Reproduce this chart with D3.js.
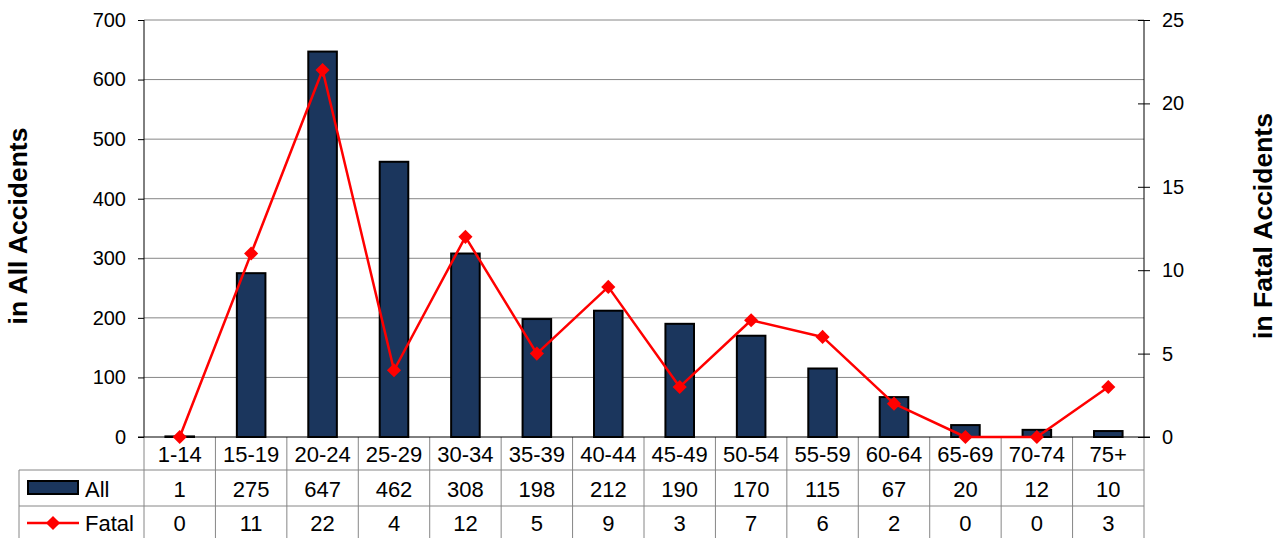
<!DOCTYPE html>
<html>
<head>
<meta charset="utf-8">
<script src="https://cdn.jsdelivr.net/npm/d3@7"></script>
<style>
  body { margin: 0; background: #fff; }
  svg { display: block; font-family: "Liberation Sans", Arial, sans-serif; }
  .axis path { display: none; }
  .axis line { stroke: #000; }
  .axis text { font-size: 20px; fill: #000; }
</style>
</head>
<body>
<svg width="1285" height="538"></svg>
<script>
// data
const ageGroups = ["1-14", "15-19", "20-24", "25-29", "30-34", "35-39", "40-44",
                   "45-49", "50-54", "55-59", "60-64", "65-69", "70-74", "75+"];
const allAccidents = [1, 275, 647, 462, 308, 198, 212, 190, 170, 115, 67, 20, 12, 10];
const fatalAccidents = [0, 11, 22, 4, 12, 5, 9, 3, 7, 6, 2, 0, 0, 3];
const leftTicks = [0, 100, 200, 300, 400, 500, 600, 700];
const rightTicks = [0, 5, 10, 15, 20, 25];

const BAR_COLOR = "#1b365d";
const LINE_COLOR = "#ff0000";
const GRID_COLOR = "#868686";

// plot box
const plotLeft = 144, plotRight = 1144, plotTop = 20, plotBottom = 437;
const tableLeft = 19;
const rowAll = 470, rowFatal = 506, tableBottom = 540;

const svg = d3.select("svg");

const xScale = d3.scaleBand()
  .domain(ageGroups)
  .range([plotLeft, plotRight])
  .padding(0);

const yLeft = d3.scaleLinear().domain([0, 700]).range([plotBottom, plotTop]);
const yRight = d3.scaleLinear().domain([0, 25]).range([plotBottom, plotTop]);

// Grid lines - horizontal
svg.append("g")
  .selectAll("line")
  .data(leftTicks.filter(t => t > 0))
  .enter()
  .append("line")
  .attr("x1", plotLeft)
  .attr("x2", plotRight)
  .attr("y1", d => yLeft(d))
  .attr("y2", d => yLeft(d))
  .attr("stroke", GRID_COLOR)
  .attr("stroke-width", 1);

// Bars
const barW = xScale.bandwidth() * 0.4;
svg.append("g")
  .selectAll("rect")
  .data(allAccidents)
  .enter()
  .append("rect")
  .attr("x", (d, i) => xScale(ageGroups[i]) + xScale.bandwidth() / 2 - barW / 2)
  .attr("y", d => yLeft(d))
  .attr("width", barW)
  .attr("height", d => plotBottom - yLeft(d))
  .attr("fill", BAR_COLOR)
  .attr("stroke", "#000")
  .attr("stroke-width", 2);

// Table lines
const table = svg.append("g").attr("stroke", GRID_COLOR).attr("stroke-width", 1);
[rowAll, rowFatal].forEach(y => {
  table.append("line").attr("x1", tableLeft).attr("x2", plotRight).attr("y1", y).attr("y2", y);
});
table.append("line").attr("x1", tableLeft).attr("x2", tableLeft).attr("y1", rowAll).attr("y2", tableBottom);
ageGroups.forEach(g => {
  table.append("line")
    .attr("x1", xScale(g)).attr("x2", xScale(g))
    .attr("y1", plotBottom).attr("y2", tableBottom);
});
table.append("line").attr("x1", plotRight).attr("x2", plotRight).attr("y1", plotBottom).attr("y2", tableBottom);

// Axes
svg.append("g")
  .attr("class", "axis")
  .attr("transform", `translate(${plotLeft},0)`)
  .call(d3.axisLeft(yLeft).tickValues(leftTicks).tickSize(6).tickPadding(12));

const axR = svg.append("g")
  .attr("class", "axis")
  .attr("transform", `translate(${plotRight},0)`)
  .call(d3.axisRight(yRight).tickValues(rightTicks).tickSize(6).tickPadding(12));
axR.selectAll(".tick line").attr("x1", -6).attr("x2", 6);

// axis lines
svg.append("line").attr("x1", plotLeft).attr("x2", plotLeft).attr("y1", plotTop).attr("y2", plotBottom).attr("stroke", "#000");
svg.append("line").attr("x1", plotRight).attr("x2", plotRight).attr("y1", plotTop).attr("y2", plotBottom).attr("stroke", "#000");
svg.append("line").attr("x1", plotLeft - 6).attr("x2", plotRight + 6).attr("y1", plotBottom).attr("y2", plotBottom).attr("stroke", "#000");

// Fatal line + diamond markers
const cx = i => xScale(ageGroups[i]) + xScale.bandwidth() / 2;
const line = d3.line()
  .x((d, i) => cx(i))
  .y(d => yRight(d));

svg.append("path")
  .datum(fatalAccidents)
  .attr("d", line)
  .attr("fill", "none")
  .attr("stroke", LINE_COLOR)
  .attr("stroke-width", 2.5)
  .attr("stroke-linejoin", "round");

const diamond = d3.symbol(d3.symbolSquare, 100);
svg.append("g")
  .selectAll("path")
  .data(fatalAccidents)
  .enter()
  .append("path")
  .attr("d", diamond)
  .attr("transform", (d, i) => `translate(${cx(i)},${yRight(d)}) rotate(45)`)
  .attr("fill", LINE_COLOR);

// Table text
const cell = (x, y, txt) => svg.append("text")
  .attr("x", x)
  .attr("y", y)
  .attr("dy", "0.35em")
  .attr("text-anchor", "middle")
  .attr("font-size", 22)
  .text(txt);

ageGroups.forEach((g, i) => {
  cell(cx(i), (plotBottom + rowAll) / 2 + 1, g);
  cell(cx(i), (rowAll + rowFatal) / 2 + 1, allAccidents[i]);
  cell(cx(i), (rowFatal + 538) / 2 + 1, fatalAccidents[i]);
});

// Legend keys in the table
svg.append("rect")
  .attr("x", 28).attr("y", 481)
  .attr("width", 50).attr("height", 13)
  .attr("fill", BAR_COLOR)
  .attr("stroke", "#000")
  .attr("stroke-width", 2);
svg.append("text")
  .attr("x", 85).attr("y", 489).attr("dy", "0.35em")
  .attr("font-size", 22).text("All");

svg.append("line")
  .attr("x1", 27).attr("x2", 79).attr("y1", 523).attr("y2", 523)
  .attr("stroke", LINE_COLOR).attr("stroke-width", 2.5);
svg.append("path")
  .attr("d", diamond)
  .attr("transform", "translate(53,523) rotate(45)")
  .attr("fill", LINE_COLOR);
svg.append("text")
  .attr("x", 85).attr("y", 523).attr("dy", "0.35em")
  .attr("font-size", 22).text("Fatal");

// Axis titles
svg.append("text")
  .attr("transform", "translate(27,226) rotate(-90)")
  .attr("text-anchor", "middle")
  .attr("font-size", 26.5)
  .attr("font-weight", "bold")
  .text("in All Accidents");

svg.append("text")
  .attr("transform", "translate(1272,226) rotate(-90)")
  .attr("text-anchor", "middle")
  .attr("font-size", 26.5)
  .attr("font-weight", "bold")
  .text("in Fatal Accidents");
</script>
</body>
</html>
